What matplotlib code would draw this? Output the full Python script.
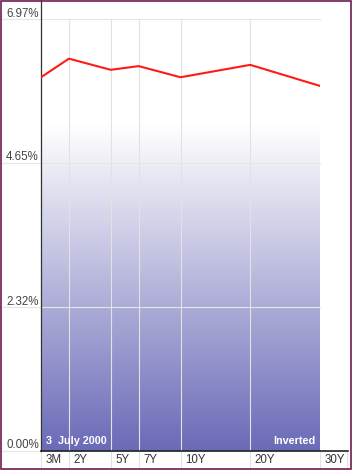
import numpy as np
import matplotlib
matplotlib.use("Agg")
import matplotlib.pyplot as plt
from matplotlib.patches import Rectangle
from matplotlib.transforms import offset_copy

# yield curve, 3 July 2000
maturities = ["3M", "2Y", "5Y", "7Y", "10Y", "20Y", "30Y"]
positions = [0, 2, 5, 7, 10, 15, 20]
yields = [6.03, 6.33, 6.15, 6.21, 6.03, 6.23, 5.89]
ytick_vals = [0.0, 2.32, 4.65, 6.97]
date_label = "3  July 2000"
shape_label = "Inverted"

W, H = 353, 471
plt.rcParams['font.family'] = ['Liberation Sans', 'DejaVu Sans']

fig = plt.figure(figsize=(W / 100, H / 100), dpi=100)
ax = fig.add_axes([41 / W, 20 / H, 279 / W, 432 / H])
ax.set_xlim(0, 20)
ax.set_ylim(0, 6.97)
ax.axis('off')

# gradient fill under the curve
top_white = 5.26
yy = np.linspace(6.97, 0, 400)
frac = np.clip((top_white - yy) / top_white, 0, 1)
c_end = np.array([106, 106, 184]) / 255
rgb = (1 - frac)[:, None] * np.ones(3) + frac[:, None] * c_end
img = rgb[:, None, :]
im = ax.imshow(img, extent=[0, 20, 0, 6.97], aspect='auto', zorder=1)
poly = ax.fill_between(positions, yields, 0, color='none', zorder=1)
im.set_clip_path(poly.get_paths()[0], transform=ax.transData)

# grid (last one only as separator under the axis)
for p in positions[:-1]:
    ax.axvline(p, ymin=-17 / 432, ymax=1, color='#e2e2e2', lw=0.8,
               clip_on=False, zorder=2)
for p in [positions[-1], 307 / 14]:
    ax.axvline(p, ymin=-17 / 432, ymax=0, color='#e2e2e2', lw=0.8,
               clip_on=False, zorder=2)
for v in ytick_vals:
    ax.axhline(v, xmin=-41 / 279, xmax=1, color='#e6e6e6', lw=0.8,
               clip_on=False, zorder=2)

# axes lines
ax.axvline(0, ymin=0, ymax=451 / 432, color='#333333', lw=0.9,
           clip_on=False, zorder=4)
ax.axhline(0, xmin=0, xmax=307 / 279, color='#222222', lw=1.2,
           clip_on=False, zorder=4)

ax.plot(positions, yields, color='#ff1a1a', lw=1.5, zorder=5,
        solid_joinstyle='round')

# tick labels
xlab_tr = offset_copy(ax.get_xaxis_transform(), fig=fig, x=4.5, y=-3, units='dots')
for p, lab in zip(positions, maturities):
    ax.text(p, 0, lab, transform=xlab_tr, ha='left', va='top',
            fontsize=8.3, color='#333333')
ylab_tr = offset_copy(ax.get_yaxis_transform(), fig=fig, x=-2, y=2.5, units='dots')
for v in ytick_vals:
    ax.text(0, v, f"{v:.2f}%", transform=ylab_tr, ha='right', va='baseline',
            fontsize=8.3, color='#444444')

ax.text(5 / 279, 6.5 / 432, date_label, transform=ax.transAxes, ha='left',
        va='baseline', fontsize=7.8, fontweight='bold', color='white', zorder=6)
ax.text(274 / 279, 6.5 / 432, shape_label, transform=ax.transAxes, ha='right',
        va='baseline', fontsize=7.8, fontweight='bold', color='white', zorder=6)

# outer border
fig.patches.append(Rectangle((0.75 / W, 1 - 469 / H), 350.5 / W, 468.25 / H,
                             transform=fig.transFigure, fill=False,
                             edgecolor='#6e1a50', lw=1.2))

fig.savefig("out.png", dpi=100)
